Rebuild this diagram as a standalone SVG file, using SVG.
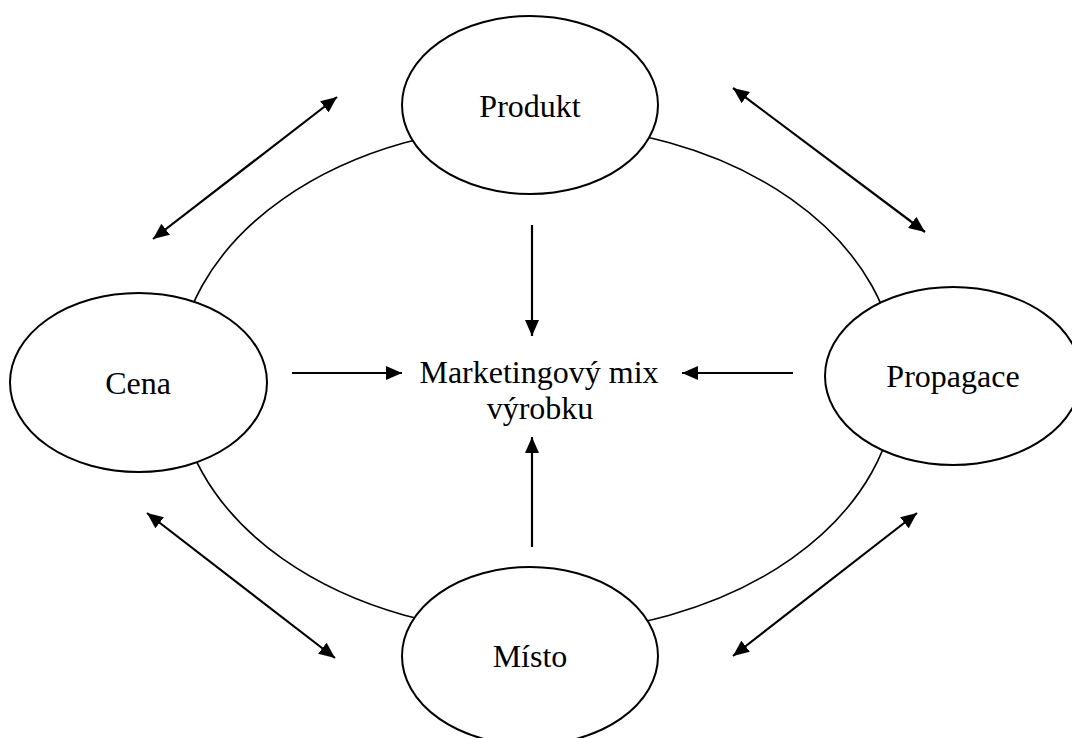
<svg xmlns="http://www.w3.org/2000/svg" width="1072" height="738" viewBox="0 0 1072 738">
<defs>
<style>
.node{fill:#fff;stroke:#000;stroke-width:2}
.ring{fill:none;stroke:#000;stroke-width:1.6}
.lbl{font-family:"Liberation Serif","Times New Roman",serif;font-size:32px;fill:#000;text-anchor:middle}
.arr{stroke:#000;stroke-width:2.2;fill:none}
</style>
<marker id="ah" markerUnits="userSpaceOnUse" markerWidth="16" markerHeight="14" viewBox="0 0 16 14" refX="16" refY="7" orient="auto-start-reverse">
<path d="M0,0 L16,7 L0,14 Z" fill="#000"/>
</marker>
</defs>
<rect width="1072" height="738" fill="#fff"/>
<g id="ring">
<ellipse class="ring" cx="537" cy="379" rx="360" ry="254"/>
</g>
<g id="connectors">
<line class="arr" x1="532" y1="225" x2="532" y2="336" marker-end="url(#ah)"/>
<line class="arr" x1="292" y1="373" x2="402" y2="373" marker-end="url(#ah)"/>
<line class="arr" x1="793" y1="373" x2="682" y2="373" marker-end="url(#ah)"/>
<line class="arr" x1="532" y1="547" x2="532" y2="437" marker-end="url(#ah)"/>
<line class="arr" x1="153" y1="239" x2="337" y2="97" marker-start="url(#ah)" marker-end="url(#ah)"/>
<line class="arr" x1="733" y1="88" x2="925" y2="232" marker-start="url(#ah)" marker-end="url(#ah)"/>
<line class="arr" x1="147" y1="513" x2="335" y2="658" marker-start="url(#ah)" marker-end="url(#ah)"/>
<line class="arr" x1="917" y1="513" x2="733" y2="656" marker-start="url(#ah)" marker-end="url(#ah)"/>
</g>
<g id="produkt">
<ellipse class="node" cx="530" cy="105" rx="128" ry="89"/>
<text class="lbl" x="530" y="117">Produkt</text>
</g>
<g id="cena">
<ellipse class="node" cx="138.5" cy="382.5" rx="128.5" ry="89.5"/>
<text class="lbl" x="138" y="394">Cena</text>
</g>
<g id="propagace">
<ellipse class="node" cx="953" cy="376" rx="128" ry="89"/>
<text class="lbl" x="953" y="387">Propagace</text>
</g>
<g id="misto">
<ellipse class="node" cx="530" cy="656" rx="128" ry="89"/>
<text class="lbl" x="530" y="667">Místo</text>
</g>
<g id="mix">
<text class="lbl" x="539" y="383">Marketingový mix</text>
<text class="lbl" x="540" y="419">výrobku</text>
</g>
</svg>
